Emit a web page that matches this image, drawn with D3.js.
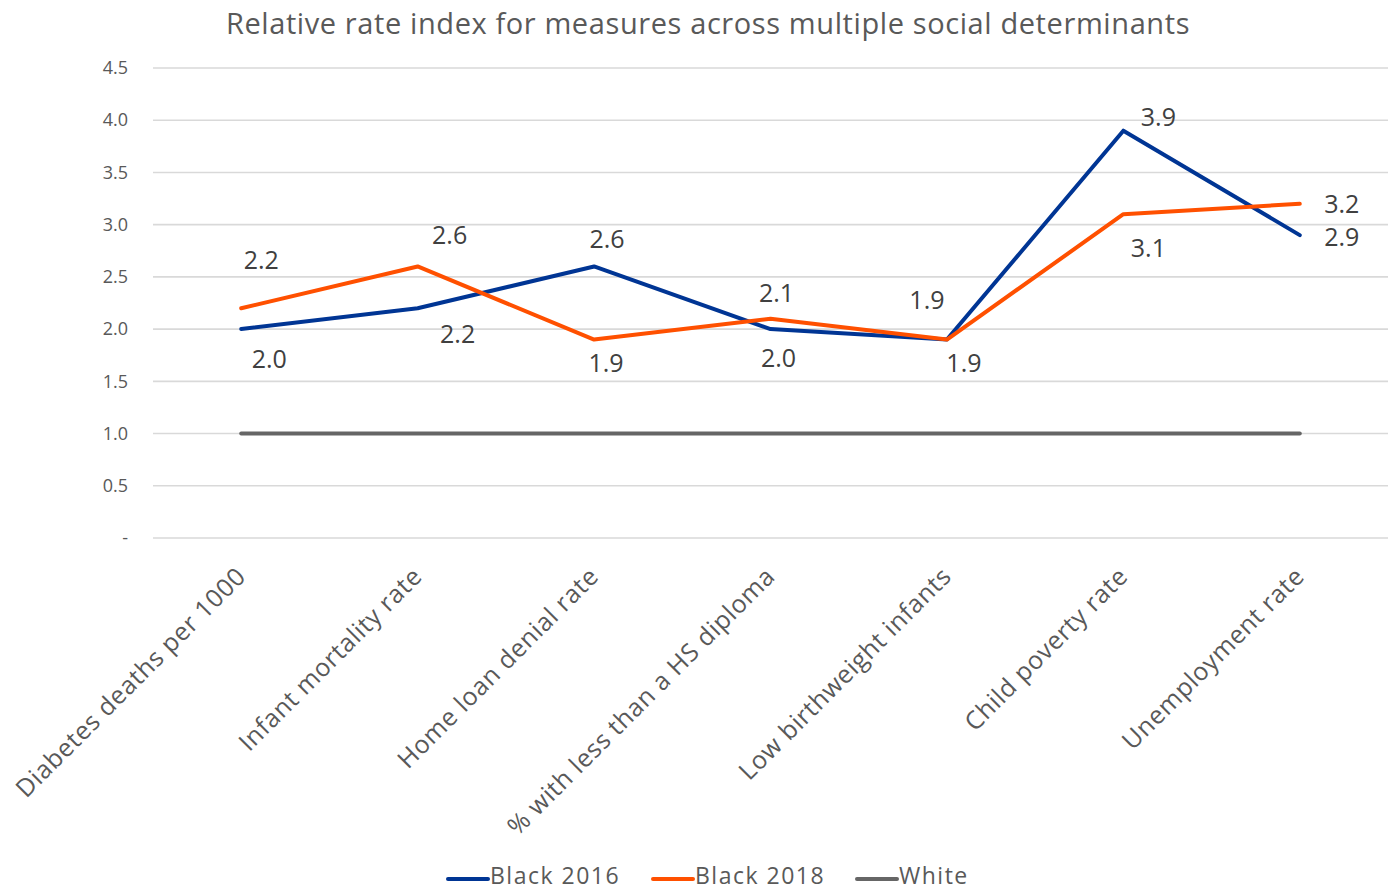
<!DOCTYPE html>
<html><head><meta charset="utf-8">
<script src="https://cdn.jsdelivr.net/npm/d3@7"></script>
<style>
body{margin:0;background:#fff;}
text{font-family:"Open Sans",Lato,sans-serif;}
</style></head>
<body><svg id="c" width="1390" height="890"></svg>
<script>
const title = "Relative rate index for measures across multiple social determinants";
const categories = ["Diabetes deaths per 1000","Infant mortality rate","Home loan denial rate","% with less than a HS diploma","Low birthweight infants","Child poverty rate","Unemployment rate"];
const black2016 = [2.0, 2.2, 2.6, 2.0, 1.9, 3.9, 2.9];
const black2018 = [2.2, 2.6, 1.9, 2.1, 1.9, 3.1, 3.2];
const white = [1, 1, 1, 1, 1, 1, 1];
const yTicks = [0, 0.5, 1.0, 1.5, 2.0, 2.5, 3.0, 3.5, 4.0, 4.5];
const seriesNames = ["Black 2016", "Black 2018", "White"];

// label offsets (placement, not data)
const off2016 = [[28,29],[40,25],[13,-28],[8,28],[-20,-41],[35,-15],[42,1]];
const off2018 = [[20,-49],[32,-32],[12,22],[6,-27],[17,22],[25,33],[42,-1]];

const FONT = "'Open Sans',Lato,sans-serif";
const colors = ["#003594", "#FF5000", "#666666"];
const svg = d3.select("#c");
const L = 153, R = 1388, T = 68, B = 538;
const x = d3.scaleBand().domain(categories).range([L, R]);
const y = d3.scaleLinear().domain([0, 4.5]).range([B, T]);
const cx = c => x(c) + x.bandwidth()/2;

// grid
svg.append("g").selectAll("line").data(yTicks).join("line")
  .attr("x1", L).attr("x2", R).attr("y1", d=>y(d)).attr("y2", d=>y(d))
  .attr("stroke", "#d9d9d9").attr("stroke-width", 1.6);

// y axis labels
const yAxis = d3.axisLeft(y).tickValues(yTicks).tickSize(0).tickPadding(0)
  .tickFormat(d => d === 0 ? "-" : d3.format(".1f")(d));
const ya = svg.append("g").attr("transform", `translate(128,0)`).call(yAxis);
ya.select(".domain").remove();
ya.selectAll("text").attr("font-size", 18).attr("fill", "#595959").attr("font-family",FONT);

// x axis labels
const xa = svg.append("g").attr("transform", `translate(0,${B})`)
  .call(d3.axisBottom(x).tickSize(0).tickPadding(0));
xa.select(".domain").remove();
xa.selectAll("text")
  .attr("font-size", 25).attr("fill", "#595959").attr("font-family",FONT)
  .attr("letter-spacing", 0.6)
  .attr("text-anchor", "end").attr("dy", null)
  .attr("transform", "translate(6,40) rotate(-45)");

// lines
const series = [black2016, black2018, white];
const line = d3.line().x((d,i)=>cx(categories[i])).y(d=>y(d));
[2,0,1].forEach(si => {
  svg.append("path").datum(series[si]).attr("d", line)
    .attr("fill","none").attr("stroke", colors[si]).attr("stroke-width", 4)
    .attr("stroke-linejoin","round").attr("stroke-linecap","round");
});

// data labels
function labels(vals, offs){
  svg.append("g").selectAll("text").data(vals).join("text")
    .attr("x", (d,i)=>cx(categories[i]) + offs[i][0])
    .attr("y", (d,i)=>y(d) + offs[i][1])
    .attr("text-anchor","middle").attr("dominant-baseline","central")
    .attr("font-size", 25).attr("fill", "#404040")
    .text(d=>d3.format(".1f")(d));
}
labels(black2016, off2016);
labels(black2018, off2018);

// title
svg.append("text").attr("x", 708).attr("y", 34).attr("text-anchor","middle")
  .attr("font-size", 29).attr("letter-spacing", 0.6).attr("fill","#595959").text(title);

// legend
const legX = [448, 653, 857];
const lg = svg.append("g");
seriesNames.forEach((n,i)=>{
  lg.append("line").attr("x1", legX[i]).attr("x2", legX[i]+40).attr("y1", 879).attr("y2", 879)
    .attr("stroke", colors[i]).attr("stroke-width", 4).attr("stroke-linecap","round");
  lg.append("text").attr("x", legX[i]+42).attr("y", 884)
    .attr("font-size", 23).attr("letter-spacing", 1.5).attr("fill","#595959").text(n);
});
</script></body></html>
